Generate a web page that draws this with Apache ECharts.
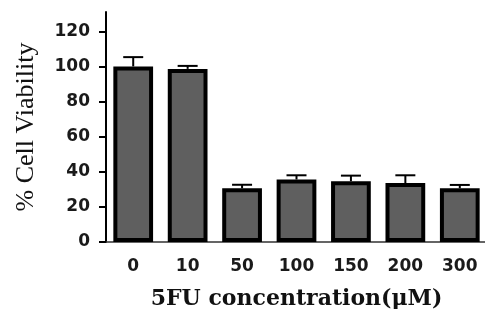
<!DOCTYPE html>
<html>
<head>
<meta charset="utf-8">
<script src="https://cdn.jsdelivr.net/npm/echarts@6/dist/echarts.min.js"></script>
<style>
  html, body { margin: 0; padding: 0; background: #fff; }
  #chart { width: 485px; height: 309px; }
</style>
</head>
<body>
<div id="chart"></div>
<script>
const categories = ['0', '10', '50', '100', '150', '200', '300']
const viability = [100, 98.6, 30.6, 35.6, 34.6, 33.6, 30.6]
const sem = [5.3, 1.7, 2, 2.4, 3.2, 4.4, 1.9]
const yTicks = [0, 20, 40, 60, 80, 100, 120]

const chart = echarts.init(document.getElementById('chart'))

// error bars: stem + cap above each bar
function renderError (params, api) {
  const x = api.value(0)
  const top = api.coord([x, api.value(1) + api.value(2)])
  const base = api.coord([x, api.value(1)])
  const half = 10
  const style = { stroke: '#000', lineWidth: 2 }
  return {
    type: 'group',
    children: [
      { type: 'line', shape: { x1: top[0], y1: base[1], x2: top[0], y2: top[1] }, style },
      { type: 'line', shape: { x1: top[0] - half, y1: top[1], x2: top[0] + half, y2: top[1] }, style }
    ]
  }
}

const tickFont = { fontFamily: 'DejaVu Sans', fontWeight: 'bold', fontSize: 17, color: '#1a1a1a' }

chart.setOption({
  animation: false,
  grid: { left: 106, right: -2, top: 12, bottom: 67, outerBoundsMode: 'none' },
  xAxis: {
    type: 'category',
    data: categories,
    name: '5FU concentration(μM)',
    nameLocation: 'middle',
    nameGap: 46,
    nameTextStyle: { fontFamily: 'DejaVu Serif', fontWeight: 'bold', fontSize: 22, color: '#111' },
    axisLine: { lineStyle: { color: '#333', width: 1.5 } },
    axisTick: { alignWithLabel: true, length: 7, lineStyle: { color: '#000', width: 2 } },
    axisLabel: Object.assign({ margin: 16 }, tickFont)
  },
  yAxis: {
    type: 'value',
    min: 0,
    max: 131,
    interval: 20,
    name: '% Cell Viability',
    nameLocation: 'middle',
    nameGap: 67,
    nameTextStyle: { fontFamily: 'Liberation Serif', fontSize: 26, color: '#111' },
    splitLine: { show: false },
    axisLine: { show: true, lineStyle: { color: '#000', width: 2 } },
    axisTick: { show: true, length: 7, customValues: yTicks, lineStyle: { color: '#000', width: 2 } },
    axisLabel: Object.assign({ customValues: yTicks, margin: 16 }, tickFont)
  },
  series: [
    {
      type: 'bar',
      data: viability,
      barCategoryGap: '27%',
      itemStyle: { color: '#5f5f5f', borderColor: '#000', borderWidth: 4 },
      z: 2
    },
    {
      type: 'custom',
      renderItem: renderError,
      data: viability.map((v, i) => [i, v, sem[i]]),
      z: 1
    }
  ]
})
</script>
</body>
</html>
